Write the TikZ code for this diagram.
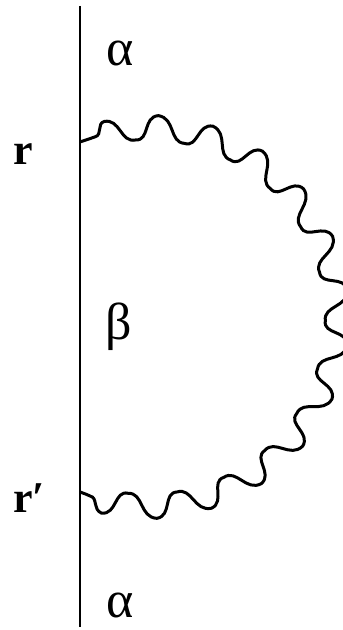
\documentclass[tikz,border=0pt]{standalone}
\usepackage{fontspec}
\setmainfont{Liberation Serif}
\usetikzlibrary{decorations}

% flat topped wave for the photon line
\pgfdeclaredecoration{photon}{initial}{
  \state{initial}[width=+.25\pgfdecorationsegmentlength,next state=down]{
    \pgfpathmoveto{\pgfpointorigin}
    \pgfpathcurveto{\pgfqpoint{.15\pgfdecorationsegmentlength}{0pt}}
      {\pgfqpoint{.1\pgfdecorationsegmentlength}{\pgfdecorationsegmentamplitude}}
      {\pgfqpoint{.25\pgfdecorationsegmentlength}{\pgfdecorationsegmentamplitude}}
  }
  \state{down}[switch if less than=+.75\pgfdecorationsegmentlength to end down,
    width=+.5\pgfdecorationsegmentlength,next state=up]{
    \pgfpathcurveto{\pgfqpoint{.3\pgfdecorationsegmentlength}{\pgfdecorationsegmentamplitude}}
      {\pgfqpoint{.2\pgfdecorationsegmentlength}{-\pgfdecorationsegmentamplitude}}
      {\pgfqpoint{.5\pgfdecorationsegmentlength}{-\pgfdecorationsegmentamplitude}}
  }
  \state{up}[switch if less than=+.75\pgfdecorationsegmentlength to end up,
    width=+.5\pgfdecorationsegmentlength,next state=down]{
    \pgfpathcurveto{\pgfqpoint{.3\pgfdecorationsegmentlength}{-\pgfdecorationsegmentamplitude}}
      {\pgfqpoint{.2\pgfdecorationsegmentlength}{\pgfdecorationsegmentamplitude}}
      {\pgfqpoint{.5\pgfdecorationsegmentlength}{\pgfdecorationsegmentamplitude}}
  }
  \state{end down}[width=+.25\pgfdecorationsegmentlength,next state=final]{
    \pgfpathcurveto{\pgfqpoint{.15\pgfdecorationsegmentlength}{\pgfdecorationsegmentamplitude}}
      {\pgfqpoint{.1\pgfdecorationsegmentlength}{0pt}}
      {\pgfqpoint{.25\pgfdecorationsegmentlength}{0pt}}
  }
  \state{end up}[width=+.25\pgfdecorationsegmentlength,next state=final]{
    \pgfpathcurveto{\pgfqpoint{.15\pgfdecorationsegmentlength}{-\pgfdecorationsegmentamplitude}}
      {\pgfqpoint{.1\pgfdecorationsegmentlength}{0pt}}
      {\pgfqpoint{.25\pgfdecorationsegmentlength}{0pt}}
  }
  \state{final}{\pgfpathlineto{\pgfpointdecoratedpathlast}}
}

\begin{document}
\begin{tikzpicture}[x=1pt,y=1pt,line width=2.8pt,
  wavy/.style={line width=3pt,decorate,decoration={photon,segment length=51.96pt,
    amplitude=12.2pt,pre=lineto,pre length=16pt,post=lineto,post length=6pt}},
  greek/.style={inner sep=0pt,font=\fontsize{52}{52}\selectfont},
  vlabel/.style={inner sep=0pt,anchor=base west,font=\fontsize{44}{44}\selectfont\bfseries}]
\useasboundingbox (0,0) rectangle (343,630);
% electrode line and the two vertices
\coordinate (top) at (80,624);
\coordinate (bot) at (80,3);
\coordinate (r1) at (80,488);
\coordinate (r2) at (80,138);
\draw (top) -- (bot);
\draw[wavy] (r1) arc[start angle=111.2,end angle=-111.2,radius=187.7pt];
% labels
\node[greek] (alpha1) at (120.5,577) {α};
\node[greek] (beta) at (119,303) {β};
\node[greek] (alpha2) at (120.5,25) {α};
\node[vlabel] (rlab) at (12,465) {r};
\node[vlabel] (rplab) at (12,117) {r′};
\end{tikzpicture}
\end{document}
